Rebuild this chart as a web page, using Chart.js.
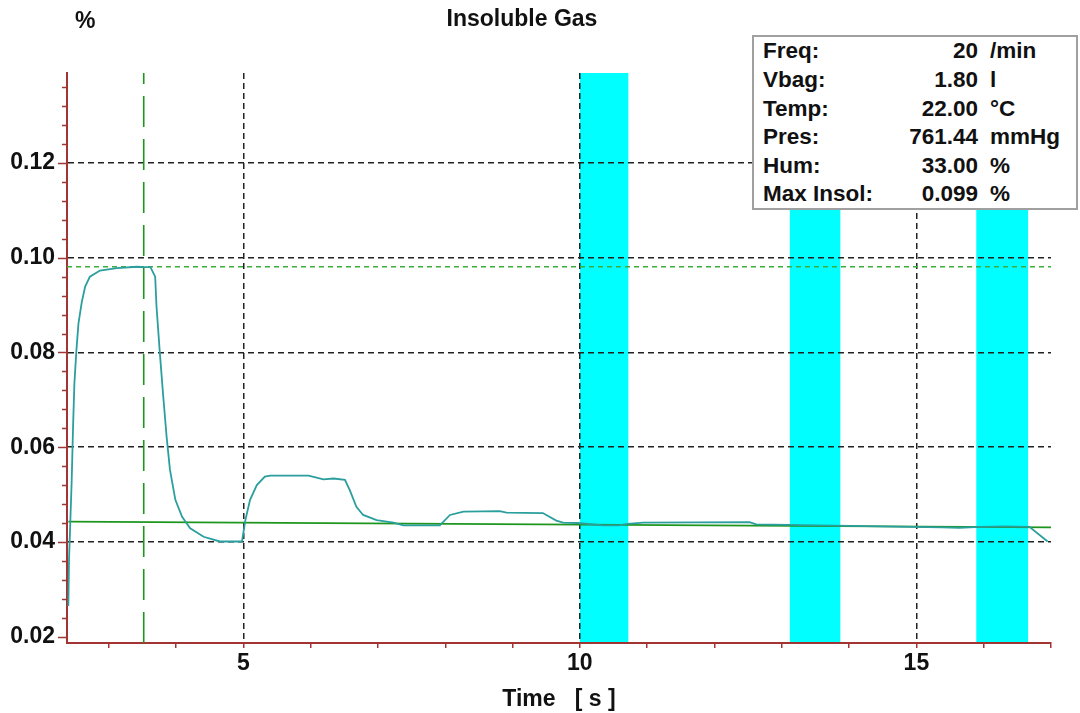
<!DOCTYPE html>
<html>
<head>
<meta charset="utf-8">
<script src="https://cdn.jsdelivr.net/npm/chart.js@4/dist/chart.umd.min.js"></script>
<style>
  body { margin: 0; background: #fff; font-family: 'Liberation Sans', Arial, sans-serif; }
  #wrap { position: relative; width: 1080px; height: 713px; }
  #graph { position: absolute; left: 0; top: 0; }
  .txt { position: absolute; font-weight: bold; font-size: 23px; line-height: 26px; color: #111; white-space: pre; }
  #info { position: absolute; left: 752px; top: 35px; width: 326px; height: 175px; box-sizing: border-box;
          border: 2px solid #a0a0a0; background: #fff; padding-top: 0.4px; }
  .row { position: relative; height: 28.6px; line-height: 28.6px; font-weight: bold; font-size: 22.5px; color: #111; }
  .row span { position: absolute; top: 0; white-space: pre; }
</style>
</head>
<body>
<div id="wrap">
  <canvas id="graph" width="1080" height="713"></canvas>
  <div class="txt" style="left:75px; top:7px;">%</div>
  <div class="txt" style="left:0; width:1044px; text-align:center; top:5px;">Insoluble Gas</div>
  <div id="info"></div>
</div>
<script>
// measured curve: time [s] / insoluble gas [%]
const time = [2.40, 2.41, 2.43, 2.45, 2.47, 2.49, 2.52, 2.55, 2.60, 2.65, 2.72, 2.87, 3.12, 3.42, 3.52, 3.62,
  3.69, 3.71, 3.76, 3.81, 3.86, 3.91, 3.99, 4.09, 4.21, 4.41, 4.65, 4.98, 5.03, 5.10, 5.20, 5.32, 5.40,
  5.97, 6.19, 6.34, 6.51, 6.58, 6.68, 6.78, 6.98, 7.23, 7.38, 7.92, 8.07, 8.27, 8.81, 8.91, 9.45, 9.65,
  9.75, 9.97, 10.35, 10.57, 10.71, 10.94, 12.52, 12.62, 15.39, 15.64, 15.94, 16.31, 16.68, 16.95];
const insol = [0.0265, 0.0362, 0.0446, 0.0531, 0.0643, 0.0735, 0.0805, 0.0861, 0.0907, 0.0939, 0.0960, 0.0973,
  0.0978, 0.0981, 0.0980, 0.0980, 0.0960, 0.0897, 0.0798, 0.0707, 0.0622, 0.0552, 0.0489, 0.0453, 0.0429,
  0.0411, 0.0401, 0.0401, 0.0446, 0.0489, 0.0520, 0.0538, 0.0540, 0.0540, 0.0532, 0.0534, 0.0531, 0.0510,
  0.0474, 0.0457, 0.0446, 0.0441, 0.0435, 0.0435, 0.0457, 0.0464, 0.0465, 0.0462, 0.0461, 0.0445, 0.0441,
  0.0440, 0.0435, 0.0435, 0.0438, 0.0441, 0.0442, 0.0437, 0.0431, 0.0430, 0.0432, 0.0433, 0.0432, 0.0401];

// green baseline (slightly sloped), max marker
const baseTime = [2.40, 17.0];
const baseValue = [0.0443, 0.0431];
const maxTime = 3.52;
const maxValue = 0.0981;

// cyan breath bands
const bandStart = [10.0, 13.12, 15.89];
const bandEnd = [10.72, 13.87, 16.66];

// axes
const X_MIN = 2.38, X_MAX = 17;
const Y_MIN = 0.01867, Y_MAX = 0.139;
const xLabels = [5, 10, 15];
const yLabels = [0.02, 0.04, 0.06, 0.08, 0.10, 0.12];

// info box
const infoLabels = ['Freq:', 'Vbag:', 'Temp:', 'Pres:', 'Hum:', 'Max Insol:'];
const infoValues = ['20', '1.80', '22.00', '761.44', '33.00', '0.099'];
const infoUnits = ['/min', 'l', '°C', 'mmHg', '%', '%'];

const AXIS_RED = '#a33434';
const GRID_DASH = [6, 4];

const info = document.getElementById('info');
infoLabels.forEach((lab, i) => {
    const row = document.createElement('div');
    row.className = 'row';
    row.innerHTML = '<span style="left:9px">' + lab + '</span>' +
        '<span style="right:98px">' + infoValues[i] + '</span>' +
        '<span style="left:236px">' + infoUnits[i] + '</span>';
    info.appendChild(row);
});

function isLabel(v, list) {
    return list.some(l => Math.abs(l - v) < 1e-6);
}

// cyan bands behind grid and curves
const bands = {
    id: 'bands',
    beforeDraw(chart) {
        const {ctx, chartArea, scales: {x}} = chart;
        ctx.save();
        ctx.fillStyle = '#00ffff';
        bandStart.forEach((s, i) => {
            const x1 = x.getPixelForValue(s);
            const x2 = x.getPixelForValue(bandEnd[i]);
            ctx.fillRect(x1, chartArea.top, x2 - x1, chartArea.bottom - chartArea.top);
        });
        ctx.restore();
    }
};

// y ticks: long at labelled values, short in between
const yTicks = {
    id: 'yTicks',
    afterDraw(chart) {
        const {ctx, chartArea, scales: {y}} = chart;
        ctx.save();
        ctx.strokeStyle = AXIS_RED;
        ctx.lineWidth = 1.5;
        y.ticks.forEach(t => {
            const py = Math.round(y.getPixelForValue(t.value)) + 0.5;
            const len = isLabel(t.value, yLabels) ? 9 : 5;
            ctx.beginPath();
            ctx.moveTo(chartArea.left - len, py);
            ctx.lineTo(chartArea.left, py);
            ctx.stroke();
        });
        ctx.restore();
    }
};

const data = {
    datasets: [
        {
            label: 'Insoluble Gas',
            data: time.map((t, i) => ({x: t, y: insol[i]})),
            borderColor: '#2b9e9e',
            borderWidth: 1.8,
        },
        {
            label: 'Baseline',
            data: baseTime.map((t, i) => ({x: t, y: baseValue[i]})),
            borderColor: '#1e961e',
            borderWidth: 1.8,
        },
        {
            label: 'Max time',
            data: [{x: maxTime, y: Y_MIN}, {x: maxTime, y: Y_MAX}],
            borderColor: '#1e961e',
            borderWidth: 1.6,
            borderDash: [31, 12],
        },
        {
            label: 'Max level',
            data: [{x: X_MIN, y: maxValue}, {x: X_MAX, y: maxValue}],
            borderColor: '#3cae3c',
            borderWidth: 1.4,
            borderDash: [5, 4],
        },
    ]
};

Chart.defaults.font.family = "'Liberation Sans', Arial, sans-serif";
Chart.defaults.color = '#111';

const config = {
    type: 'line',
    data: data,
    options: {
        responsive: false,
        animation: false,
        events: [],
        layout: { padding: { top: 73, right: 29, left: 0, bottom: 0 } },
        elements: { point: { radius: 0 }, line: { tension: 0 } },
        scales: {
            x: {
                type: 'linear',
                min: X_MIN,
                max: X_MAX,
                afterFit: (scale) => { scale.height = 70; },
                ticks: {
                    stepSize: 1,
                    autoSkip: false,
                    maxRotation: 0,
                    includeBounds: false,
                    padding: 2,
                    font: { size: 23, weight: 'bold' },
                    callback: (v) => isLabel(v, xLabels) ? String(v) : '',
                },
                grid: {
                    color: (c) => (c.tick && isLabel(c.tick.value, xLabels)) ? '#222' : 'rgba(0,0,0,0)',
                    lineWidth: 1.5,
                    tickColor: AXIS_RED,
                    tickLength: 5,
                    tickWidth: 1.5,
                },
                border: { color: AXIS_RED, width: 2, dash: GRID_DASH },
                title: {
                    display: true,
                    text: 'Time   [ s ]',
                    font: { size: 23, weight: 'bold' },
                    padding: { top: 0, bottom: 0 },
                },
            },
            y: {
                min: Y_MIN,
                max: Y_MAX,
                afterFit: (scale) => { scale.width = 67; },
                ticks: {
                    stepSize: 0.004,
                    autoSkip: false,
                    includeBounds: false,
                    padding: 12,
                    font: { size: 23, weight: 'bold' },
                    callback: (v) => isLabel(v, yLabels) ? v.toFixed(2) : '',
                },
                grid: {
                    color: (c) => (c.tick && isLabel(c.tick.value, yLabels) && c.tick.value > 0.03) ? '#222' : 'rgba(0,0,0,0)',
                    lineWidth: 1.5,
                    drawTicks: false,
                },
                border: { color: AXIS_RED, width: 2, dash: GRID_DASH },
            }
        },
        plugins: {
            legend: { display: false },
            tooltip: { enabled: false },
            title: { display: false },
        }
    },
    plugins: [bands, yTicks]
};

const chart = new Chart(document.getElementById('graph'), config);
</script>
</body>
</html>
